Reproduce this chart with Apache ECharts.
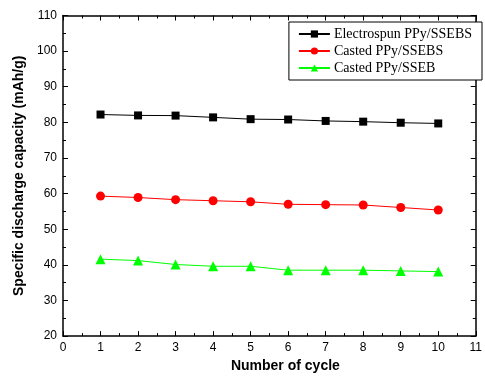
<!DOCTYPE html>
<html><head><meta charset="utf-8">
<script src="https://cdn.jsdelivr.net/npm/echarts@6/dist/echarts.min.js"></script>
<style>html,body{margin:0;padding:0;background:#fff}#c{width:485px;height:378px}</style>
</head><body><div id="c"></div>
<script>
const cycles = [1,2,3,4,5,6,7,8,9,10];
const electrospunSSEBS = [82.2,81.95,81.9,81.4,80.9,80.8,80.4,80.2,79.9,79.7];
const castedSSEBS = [59.3,58.9,58.3,58.0,57.7,57.0,56.9,56.8,56.1,55.4];
const castedSSEB = [41.6,41.2,40.1,39.6,39.6,38.5,38.5,38.5,38.3,38.1];
const seriesNames = ['Electrospun PPy/SSEBS','Casted PPy/SSEBS','Casted PPy/SSEB'];
const xTitle = 'Number of cycle';
const yTitle = 'Specific discharge capacity (mAh/g)';

const chart = echarts.init(document.getElementById('c'), null, {renderer:'canvas'});
const pair = arr => cycles.map((c,i)=>[c,arr[i]]);
const axisCommon = {
  axisLine:{show:true,onZero:false,lineStyle:{color:'#000',width:1.5}},
  axisTick:{show:true,inside:true,length:5,lineStyle:{color:'#000',width:1}},
  minorTick:{show:true,splitNumber:2,length:3,lineStyle:{color:'#000',width:1}},
  splitLine:{show:false}
};
chart.setOption({
  animation:false,
  backgroundColor:'#fff',
  grid:{left:63,right:3.5,top:15.5,bottom:38,containLabel:false},
  legend:{
    right:3,top:22,orient:'vertical',
    data:seriesNames,
    backgroundColor:'#fff',
    borderColor:'#000',borderWidth:1,borderRadius:0,
    padding:[5,10,5,9],
    itemGap:3,itemWidth:31,itemHeight:9,
    textStyle:{fontFamily:'Liberation Serif',fontSize:14,color:'#000',padding:[0,0,0,-1]}
  },
  xAxis:[
    Object.assign({type:'value',min:0,max:11,interval:1,position:'bottom',
      name:xTitle,nameLocation:'middle',nameGap:22,
      nameTextStyle:{fontFamily:'Liberation Sans',fontWeight:'bold',fontSize:14,color:'#000',padding:[0,0,0,32]},
      axisLabel:{fontFamily:'Liberation Sans',fontSize:12,color:'#000',margin:6}},axisCommon),
    Object.assign({type:'value',min:0,max:11,interval:1,position:'top',
      axisLabel:{show:false}},axisCommon)
  ],
  yAxis:[
    Object.assign({type:'value',min:20,max:110,interval:10,position:'left',
      name:yTitle,nameLocation:'middle',nameGap:36,
      nameTextStyle:{fontFamily:'Liberation Sans',fontWeight:'bold',fontSize:14,color:'#000'},
      axisLabel:{fontFamily:'Liberation Sans',fontSize:12,color:'#000',margin:6}},axisCommon),
    Object.assign({type:'value',min:20,max:110,interval:10,position:'right',
      axisLabel:{show:false}},axisCommon)
  ],
  series:[
    {name:seriesNames[0],type:'line',data:pair(electrospunSSEBS),symbol:'rect',symbolSize:8,
      itemStyle:{color:'#000'},lineStyle:{color:'#000',width:1}},
    {name:seriesNames[1],type:'line',data:pair(castedSSEBS),symbol:'circle',symbolSize:9,
      itemStyle:{color:'#ff0000'},lineStyle:{color:'#ff0000',width:1}},
    {name:seriesNames[2],type:'line',data:pair(castedSSEB),symbol:'triangle',symbolSize:10,
      itemStyle:{color:'#00ff00'},lineStyle:{color:'#00ff00',width:1}}
  ]
});
</script></body></html>
